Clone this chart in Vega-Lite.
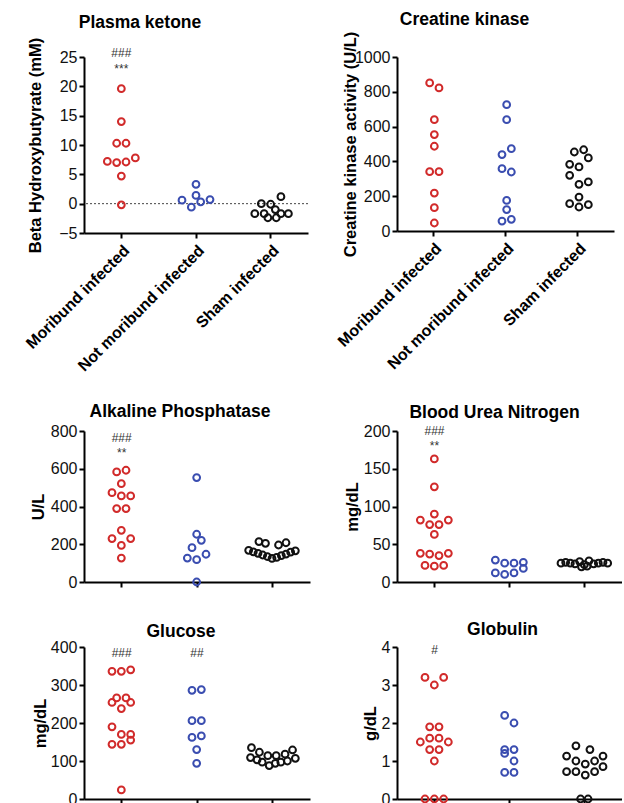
{
  "$schema": "https://vega.github.io/schema/vega-lite/v6.json",
  "padding": {"left": 22, "top": 10, "right": 0, "bottom": 0},
  "datasets": {
    "pts": [
      {"panel": "ketone", "group": "Moribund infected", "value": 19.6, "slot": 0},
      {"panel": "ketone", "group": "Moribund infected", "value": 14.0, "slot": 0},
      {"panel": "ketone", "group": "Moribund infected", "value": 10.3, "slot": -0.5},
      {"panel": "ketone", "group": "Moribund infected", "value": 10.3, "slot": 0.5},
      {"panel": "ketone", "group": "Moribund infected", "value": 7.2, "slot": -1.5},
      {"panel": "ketone", "group": "Moribund infected", "value": 7.0, "slot": -0.5},
      {"panel": "ketone", "group": "Moribund infected", "value": 7.1, "slot": 0.5},
      {"panel": "ketone", "group": "Moribund infected", "value": 7.8, "slot": 1.5},
      {"panel": "ketone", "group": "Moribund infected", "value": 4.7, "slot": 0},
      {"panel": "ketone", "group": "Moribund infected", "value": -0.2, "slot": 0},
      {"panel": "ketone", "group": "Not moribund infected", "value": 3.3, "slot": 0},
      {"panel": "ketone", "group": "Not moribund infected", "value": 1.4, "slot": 0},
      {"panel": "ketone", "group": "Not moribund infected", "value": 0.6, "slot": -1.5},
      {"panel": "ketone", "group": "Not moribund infected", "value": 0.3, "slot": 0.5},
      {"panel": "ketone", "group": "Not moribund infected", "value": 0.7, "slot": 1.5},
      {"panel": "ketone", "group": "Not moribund infected", "value": -0.6, "slot": -0.5},
      {"panel": "ketone", "group": "Sham infected", "value": 1.2, "slot": 1.1},
      {"panel": "ketone", "group": "Sham infected", "value": 0.0, "slot": -1},
      {"panel": "ketone", "group": "Sham infected", "value": -0.1, "slot": 0},
      {"panel": "ketone", "group": "Sham infected", "value": -1.0, "slot": 0.5},
      {"panel": "ketone", "group": "Sham infected", "value": -1.7, "slot": -1.7},
      {"panel": "ketone", "group": "Sham infected", "value": -1.7, "slot": -0.7},
      {"panel": "ketone", "group": "Sham infected", "value": -1.7, "slot": 1.1},
      {"panel": "ketone", "group": "Sham infected", "value": -1.7, "slot": 1.9},
      {"panel": "ketone", "group": "Sham infected", "value": -2.4, "slot": -0.3},
      {"panel": "ketone", "group": "Sham infected", "value": -2.4, "slot": 0.6},

      {"panel": "ck", "group": "Moribund infected", "value": 851, "slot": -0.5},
      {"panel": "ck", "group": "Moribund infected", "value": 822, "slot": 0.5},
      {"panel": "ck", "group": "Moribund infected", "value": 640, "slot": 0},
      {"panel": "ck", "group": "Moribund infected", "value": 554, "slot": 0},
      {"panel": "ck", "group": "Moribund infected", "value": 487, "slot": 0},
      {"panel": "ck", "group": "Moribund infected", "value": 341, "slot": -0.5},
      {"panel": "ck", "group": "Moribund infected", "value": 341, "slot": 0.5},
      {"panel": "ck", "group": "Moribund infected", "value": 218, "slot": 0},
      {"panel": "ck", "group": "Moribund infected", "value": 134, "slot": 0},
      {"panel": "ck", "group": "Moribund infected", "value": 46, "slot": 0},
      {"panel": "ck", "group": "Not moribund infected", "value": 726, "slot": 0},
      {"panel": "ck", "group": "Not moribund infected", "value": 640, "slot": 0},
      {"panel": "ck", "group": "Not moribund infected", "value": 439, "slot": -0.5},
      {"panel": "ck", "group": "Not moribund infected", "value": 473, "slot": 0.5},
      {"panel": "ck", "group": "Not moribund infected", "value": 358, "slot": -0.5},
      {"panel": "ck", "group": "Not moribund infected", "value": 339, "slot": 0.5},
      {"panel": "ck", "group": "Not moribund infected", "value": 176, "slot": 0},
      {"panel": "ck", "group": "Not moribund infected", "value": 123, "slot": 0},
      {"panel": "ck", "group": "Not moribund infected", "value": 57, "slot": -0.5},
      {"panel": "ck", "group": "Not moribund infected", "value": 67, "slot": 0.5},
      {"panel": "ck", "group": "Sham infected", "value": 454, "slot": -0.5},
      {"panel": "ck", "group": "Sham infected", "value": 467, "slot": 0.5},
      {"panel": "ck", "group": "Sham infected", "value": 420, "slot": 1},
      {"panel": "ck", "group": "Sham infected", "value": 383, "slot": -1},
      {"panel": "ck", "group": "Sham infected", "value": 368, "slot": 0},
      {"panel": "ck", "group": "Sham infected", "value": 320, "slot": -1},
      {"panel": "ck", "group": "Sham infected", "value": 282, "slot": 1},
      {"panel": "ck", "group": "Sham infected", "value": 268, "slot": 0},
      {"panel": "ck", "group": "Sham infected", "value": 195, "slot": 0},
      {"panel": "ck", "group": "Sham infected", "value": 157, "slot": -1},
      {"panel": "ck", "group": "Sham infected", "value": 138, "slot": 0},
      {"panel": "ck", "group": "Sham infected", "value": 151, "slot": 1},

      {"panel": "alp", "group": "Moribund infected", "value": 583, "slot": -0.5},
      {"panel": "alp", "group": "Moribund infected", "value": 592, "slot": 0.5},
      {"panel": "alp", "group": "Moribund infected", "value": 521, "slot": 0},
      {"panel": "alp", "group": "Moribund infected", "value": 473, "slot": -1},
      {"panel": "alp", "group": "Moribund infected", "value": 456, "slot": 0},
      {"panel": "alp", "group": "Moribund infected", "value": 456, "slot": 1},
      {"panel": "alp", "group": "Moribund infected", "value": 389, "slot": -0.5},
      {"panel": "alp", "group": "Moribund infected", "value": 389, "slot": 0.5},
      {"panel": "alp", "group": "Moribund infected", "value": 274, "slot": 0},
      {"panel": "alp", "group": "Moribund infected", "value": 230, "slot": -1},
      {"panel": "alp", "group": "Moribund infected", "value": 230, "slot": 1},
      {"panel": "alp", "group": "Moribund infected", "value": 194, "slot": 0},
      {"panel": "alp", "group": "Moribund infected", "value": 127, "slot": 0},
      {"panel": "alp", "group": "Not moribund infected", "value": 553, "slot": 0},
      {"panel": "alp", "group": "Not moribund infected", "value": 253, "slot": 0},
      {"panel": "alp", "group": "Not moribund infected", "value": 221, "slot": 0.5},
      {"panel": "alp", "group": "Not moribund infected", "value": 182, "slot": -0.5},
      {"panel": "alp", "group": "Not moribund infected", "value": 127, "slot": -1},
      {"panel": "alp", "group": "Not moribund infected", "value": 118, "slot": 0},
      {"panel": "alp", "group": "Not moribund infected", "value": 147, "slot": 1},
      {"panel": "alp", "group": "Not moribund infected", "value": 0, "slot": 0},
      {"panel": "alp", "group": "Sham infected", "value": 214, "slot": -1.4},
      {"panel": "alp", "group": "Sham infected", "value": 205, "slot": -0.7},
      {"panel": "alp", "group": "Sham infected", "value": 196, "slot": 0.7},
      {"panel": "alp", "group": "Sham infected", "value": 208, "slot": 1.5},
      {"panel": "alp", "group": "Sham infected", "value": 168, "slot": -2.5},
      {"panel": "alp", "group": "Sham infected", "value": 160, "slot": -2.0},
      {"panel": "alp", "group": "Sham infected", "value": 152, "slot": -1.5},
      {"panel": "alp", "group": "Sham infected", "value": 143, "slot": -1.0},
      {"panel": "alp", "group": "Sham infected", "value": 135, "slot": -0.5},
      {"panel": "alp", "group": "Sham infected", "value": 125, "slot": 0},
      {"panel": "alp", "group": "Sham infected", "value": 130, "slot": 0.5},
      {"panel": "alp", "group": "Sham infected", "value": 140, "slot": 1.0},
      {"panel": "alp", "group": "Sham infected", "value": 148, "slot": 1.5},
      {"panel": "alp", "group": "Sham infected", "value": 158, "slot": 2.0},
      {"panel": "alp", "group": "Sham infected", "value": 165, "slot": 2.5},

      {"panel": "bun", "group": "Moribund infected", "value": 163, "slot": 0},
      {"panel": "bun", "group": "Moribund infected", "value": 126, "slot": 0},
      {"panel": "bun", "group": "Moribund infected", "value": 90, "slot": 0},
      {"panel": "bun", "group": "Moribund infected", "value": 82, "slot": -1.5},
      {"panel": "bun", "group": "Moribund infected", "value": 76, "slot": -0.5},
      {"panel": "bun", "group": "Moribund infected", "value": 76, "slot": 0.5},
      {"panel": "bun", "group": "Moribund infected", "value": 82, "slot": 1.5},
      {"panel": "bun", "group": "Moribund infected", "value": 63, "slot": 0},
      {"panel": "bun", "group": "Moribund infected", "value": 38, "slot": -1.5},
      {"panel": "bun", "group": "Moribund infected", "value": 37, "slot": -0.5},
      {"panel": "bun", "group": "Moribund infected", "value": 35, "slot": 0.5},
      {"panel": "bun", "group": "Moribund infected", "value": 38, "slot": 1.5},
      {"panel": "bun", "group": "Moribund infected", "value": 22, "slot": -1},
      {"panel": "bun", "group": "Moribund infected", "value": 21, "slot": 0},
      {"panel": "bun", "group": "Moribund infected", "value": 22, "slot": 1},
      {"panel": "bun", "group": "Not moribund infected", "value": 29, "slot": -1.5},
      {"panel": "bun", "group": "Not moribund infected", "value": 25, "slot": -0.5},
      {"panel": "bun", "group": "Not moribund infected", "value": 25, "slot": 0.5},
      {"panel": "bun", "group": "Not moribund infected", "value": 26, "slot": 1.5},
      {"panel": "bun", "group": "Not moribund infected", "value": 12, "slot": -1.5},
      {"panel": "bun", "group": "Not moribund infected", "value": 10, "slot": -0.5},
      {"panel": "bun", "group": "Not moribund infected", "value": 12, "slot": 0.5},
      {"panel": "bun", "group": "Not moribund infected", "value": 18, "slot": 1.5},
      {"panel": "bun", "group": "Sham infected", "value": 25, "slot": -2.5},
      {"panel": "bun", "group": "Sham infected", "value": 26, "slot": -2},
      {"panel": "bun", "group": "Sham infected", "value": 25, "slot": -1.5},
      {"panel": "bun", "group": "Sham infected", "value": 24, "slot": -1},
      {"panel": "bun", "group": "Sham infected", "value": 27, "slot": -0.5},
      {"panel": "bun", "group": "Sham infected", "value": 23, "slot": 0},
      {"panel": "bun", "group": "Sham infected", "value": 28, "slot": 0.5},
      {"panel": "bun", "group": "Sham infected", "value": 24, "slot": 1},
      {"panel": "bun", "group": "Sham infected", "value": 25, "slot": 1.5},
      {"panel": "bun", "group": "Sham infected", "value": 26, "slot": 2},
      {"panel": "bun", "group": "Sham infected", "value": 25, "slot": 2.5},
      {"panel": "bun", "group": "Sham infected", "value": 20, "slot": -0.3},
      {"panel": "bun", "group": "Sham infected", "value": 21, "slot": 0.3},

      {"panel": "glucose", "group": "Moribund infected", "value": 336, "slot": -1},
      {"panel": "glucose", "group": "Moribund infected", "value": 336, "slot": 0},
      {"panel": "glucose", "group": "Moribund infected", "value": 340, "slot": 1},
      {"panel": "glucose", "group": "Moribund infected", "value": 266, "slot": -0.5},
      {"panel": "glucose", "group": "Moribund infected", "value": 266, "slot": 0.5},
      {"panel": "glucose", "group": "Moribund infected", "value": 254, "slot": -1},
      {"panel": "glucose", "group": "Moribund infected", "value": 254, "slot": 1},
      {"panel": "glucose", "group": "Moribund infected", "value": 238, "slot": 0},
      {"panel": "glucose", "group": "Moribund infected", "value": 190, "slot": -1},
      {"panel": "glucose", "group": "Moribund infected", "value": 170, "slot": 0},
      {"panel": "glucose", "group": "Moribund infected", "value": 170, "slot": 1},
      {"panel": "glucose", "group": "Moribund infected", "value": 144, "slot": -1},
      {"panel": "glucose", "group": "Moribund infected", "value": 144, "slot": 0},
      {"panel": "glucose", "group": "Moribund infected", "value": 155, "slot": 1},
      {"panel": "glucose", "group": "Moribund infected", "value": 24, "slot": 0},
      {"panel": "glucose", "group": "Not moribund infected", "value": 286, "slot": -0.5},
      {"panel": "glucose", "group": "Not moribund infected", "value": 288, "slot": 0.5},
      {"panel": "glucose", "group": "Not moribund infected", "value": 206, "slot": -0.5},
      {"panel": "glucose", "group": "Not moribund infected", "value": 206, "slot": 0.5},
      {"panel": "glucose", "group": "Not moribund infected", "value": 162, "slot": -0.5},
      {"panel": "glucose", "group": "Not moribund infected", "value": 166, "slot": 0.5},
      {"panel": "glucose", "group": "Not moribund infected", "value": 130, "slot": 0},
      {"panel": "glucose", "group": "Not moribund infected", "value": 94, "slot": 0},
      {"panel": "glucose", "group": "Sham infected", "value": 135, "slot": -2.2},
      {"panel": "glucose", "group": "Sham infected", "value": 129, "slot": 2.2},
      {"panel": "glucose", "group": "Sham infected", "value": 123, "slot": -1.35},
      {"panel": "glucose", "group": "Sham infected", "value": 114, "slot": -0.45},
      {"panel": "glucose", "group": "Sham infected", "value": 114, "slot": 0.45},
      {"panel": "glucose", "group": "Sham infected", "value": 118, "slot": 1.4},
      {"panel": "glucose", "group": "Sham infected", "value": 109, "slot": -2.3},
      {"panel": "glucose", "group": "Sham infected", "value": 103, "slot": -1.6},
      {"panel": "glucose", "group": "Sham infected", "value": 97, "slot": -1.05},
      {"panel": "glucose", "group": "Sham infected", "value": 88, "slot": -0.3},
      {"panel": "glucose", "group": "Sham infected", "value": 94, "slot": 0.35},
      {"panel": "glucose", "group": "Sham infected", "value": 97, "slot": 0.95},
      {"panel": "glucose", "group": "Sham infected", "value": 100, "slot": 1.65},
      {"panel": "glucose", "group": "Sham infected", "value": 107, "slot": 2.5},

      {"panel": "globulin", "group": "Moribund infected", "value": 3.2, "slot": -1},
      {"panel": "globulin", "group": "Moribund infected", "value": 3.2, "slot": 1},
      {"panel": "globulin", "group": "Moribund infected", "value": 3.0, "slot": 0},
      {"panel": "globulin", "group": "Moribund infected", "value": 1.9, "slot": -0.5},
      {"panel": "globulin", "group": "Moribund infected", "value": 1.9, "slot": 0.5},
      {"panel": "globulin", "group": "Moribund infected", "value": 1.6, "slot": -0.5},
      {"panel": "globulin", "group": "Moribund infected", "value": 1.6, "slot": 0.5},
      {"panel": "globulin", "group": "Moribund infected", "value": 1.5, "slot": -1.5},
      {"panel": "globulin", "group": "Moribund infected", "value": 1.5, "slot": 1.5},
      {"panel": "globulin", "group": "Moribund infected", "value": 1.3, "slot": -0.5},
      {"panel": "globulin", "group": "Moribund infected", "value": 1.3, "slot": 0.5},
      {"panel": "globulin", "group": "Moribund infected", "value": 1.0, "slot": 0},
      {"panel": "globulin", "group": "Moribund infected", "value": 0, "slot": -1},
      {"panel": "globulin", "group": "Moribund infected", "value": 0, "slot": 0},
      {"panel": "globulin", "group": "Moribund infected", "value": 0, "slot": 1},
      {"panel": "globulin", "group": "Not moribund infected", "value": 2.2, "slot": -0.5},
      {"panel": "globulin", "group": "Not moribund infected", "value": 2.0, "slot": 0.5},
      {"panel": "globulin", "group": "Not moribund infected", "value": 1.3, "slot": -0.5},
      {"panel": "globulin", "group": "Not moribund infected", "value": 1.3, "slot": 0.5},
      {"panel": "globulin", "group": "Not moribund infected", "value": 1.2, "slot": -0.5},
      {"panel": "globulin", "group": "Not moribund infected", "value": 1.0, "slot": 0.5},
      {"panel": "globulin", "group": "Not moribund infected", "value": 0.7, "slot": -0.5},
      {"panel": "globulin", "group": "Not moribund infected", "value": 0.7, "slot": 0.5},
      {"panel": "globulin", "group": "Sham infected", "value": 1.4, "slot": -0.9},
      {"panel": "globulin", "group": "Sham infected", "value": 1.3, "slot": 0.6},
      {"panel": "globulin", "group": "Sham infected", "value": 1.13, "slot": -1.9},
      {"panel": "globulin", "group": "Sham infected", "value": 1.0, "slot": -0.9},
      {"panel": "globulin", "group": "Sham infected", "value": 0.92, "slot": 0.1},
      {"panel": "globulin", "group": "Sham infected", "value": 1.0, "slot": 1.1},
      {"panel": "globulin", "group": "Sham infected", "value": 1.13, "slot": 2.0},
      {"panel": "globulin", "group": "Sham infected", "value": 0.72, "slot": -1.9},
      {"panel": "globulin", "group": "Sham infected", "value": 0.72, "slot": -0.9},
      {"panel": "globulin", "group": "Sham infected", "value": 0.63, "slot": 0.1},
      {"panel": "globulin", "group": "Sham infected", "value": 0.72, "slot": 1.1},
      {"panel": "globulin", "group": "Sham infected", "value": 0.85, "slot": 2.0},
      {"panel": "globulin", "group": "Sham infected", "value": 0, "slot": -0.4},
      {"panel": "globulin", "group": "Sham infected", "value": 0, "slot": 0.4}
    ],
    "ann": [
      {"panel": "ketone", "group": "Moribund infected", "value": 25.7, "label": "###"},
      {"panel": "ketone", "group": "Moribund infected", "value": 23.0, "label": "***"},
      {"panel": "alp", "group": "Moribund infected", "value": 765, "label": "###"},
      {"panel": "alp", "group": "Moribund infected", "value": 684, "label": "**"},
      {"panel": "bun", "group": "Moribund infected", "value": 200, "label": "###"},
      {"panel": "bun", "group": "Moribund infected", "value": 180, "label": "**"},
      {"panel": "glucose", "group": "Moribund infected", "value": 384, "label": "###"},
      {"panel": "glucose", "group": "Not moribund infected", "value": 384, "label": "##"},
      {"panel": "globulin", "group": "Moribund infected", "value": 3.91, "label": "#"}
    ]
  },
  "bounds": "flush",
  "align": "each",
  "columns": 2,
  "spacing": {"row": 65, "column": 87},
  "concat": [
    {
      "width": 224, "height": 176,
      "title": {"text": "Plasma ketone", "dx": -56, "offset": -8, "baseline": "alphabetic"},
      "layer": [
        {"data": {"values": [{}]}, "mark": {"type": "rule", "strokeDash": [2, 2], "color": "#444", "strokeWidth": 1}, "encoding": {"y": {"datum": 0, "type": "quantitative", "scale": {"domain": [-5, 25], "nice": false}, "axis": {"values": [-5, 0, 5, 10, 15, 20, 25], "labelOverlap": false, "title": "Beta Hydroxybutyrate (mM)", "titleX": -41}}}},
        {
          "data": {"name": "pts"},
          "transform": [{"filter": "datum.panel === 'ketone'"}],
          "mark": {"type": "point", "filled": false, "strokeWidth": 2, "size": 46, "opacity": 1},
          "encoding": {
            "x": {"field": "group", "type": "nominal", "scale": {"domain": ["Moribund infected", "Not moribund infected", "Sham infected"], "paddingInner": 0, "paddingOuter": 0}, "axis": {"title": null, "labelAngle": -45, "labelFontWeight": "bold", "labelFontSize": 16, "labelColor": "#000", "labelPadding": 4}},
            "xOffset": {"field": "slot", "type": "quantitative", "scale": {"domain": [-4, 4]}},
            "y": {"field": "value", "type": "quantitative", "scale": {"domain": [-5, 25], "nice": false}, "axis": {"values": [-5, 0, 5, 10, 15, 20, 25], "labelOverlap": false, "title": "Beta Hydroxybutyrate (mM)", "titleX": -41}},
            "color": {"field": "group", "type": "nominal", "scale": {"domain": ["Moribund infected", "Not moribund infected", "Sham infected"], "range": ["#d12a2a", "#3a4db0", "#111111"]}, "legend": null}
          }
        },
        {
          "data": {"name": "ann"},
          "transform": [{"filter": "datum.panel === 'ketone'"}],
          "mark": {"type": "text", "fontSize": 12, "color": "#333", "baseline": "middle"},
          "encoding": {
            "x": {"field": "group", "type": "nominal", "scale": {"domain": ["Moribund infected", "Not moribund infected", "Sham infected"], "paddingInner": 0, "paddingOuter": 0}, "axis": {"title": null, "labelAngle": -45, "labelFontWeight": "bold", "labelFontSize": 16, "labelColor": "#000", "labelPadding": 4}},
            "y": {"field": "value", "type": "quantitative", "scale": {"domain": [-5, 25], "nice": false}, "axis": {"values": [-5, 0, 5, 10, 15, 20, 25], "labelOverlap": false, "title": "Beta Hydroxybutyrate (mM)", "titleX": -41}},
            "text": {"field": "label"}
          }
        }
      ]
    },
    {
      "width": 217, "height": 174,
      "title": {"text": "Creatine kinase", "dx": -41, "offset": -11, "baseline": "alphabetic"},
      "layer": [
        {
          "data": {"name": "pts"},
          "transform": [{"filter": "datum.panel === 'ck'"}],
          "mark": {"type": "point", "filled": false, "strokeWidth": 2, "size": 46, "opacity": 1},
          "encoding": {
            "x": {"field": "group", "type": "nominal", "scale": {"domain": ["Moribund infected", "Not moribund infected", "Sham infected"], "paddingInner": 0, "paddingOuter": 0}, "axis": {"title": null, "labelAngle": -45, "labelFontWeight": "bold", "labelFontSize": 16, "labelColor": "#000", "labelPadding": 4}},
            "xOffset": {"field": "slot", "type": "quantitative", "scale": {"domain": [-4, 4]}},
            "y": {"field": "value", "type": "quantitative", "scale": {"domain": [0, 1000], "nice": false}, "axis": {"values": [0, 200, 400, 600, 800, 1000], "labelOverlap": false, "format": "d", "title": "Creatine kinase activity (U/L)", "titleX": -39}},
            "color": {"field": "group", "type": "nominal", "scale": {"domain": ["Moribund infected", "Not moribund infected", "Sham infected"], "range": ["#d12a2a", "#3a4db0", "#111111"]}, "legend": null}
          }
        }
      ]
    },
    {"width": 1, "height": 68, "data": {"values": []}, "mark": {"type": "point", "opacity": 0}, "encoding": {}},
    {"width": 1, "height": 68, "data": {"values": []}, "mark": {"type": "point", "opacity": 0}, "encoding": {}},
    {
      "width": 226, "height": 151,
      "title": {"text": "Alkaline Phosphatase", "dx": -17, "offset": -11, "baseline": "alphabetic"},
      "layer": [
        {
          "data": {"name": "pts"},
          "transform": [{"filter": "datum.panel === 'alp'"}],
          "mark": {"type": "point", "filled": false, "strokeWidth": 2, "size": 46, "opacity": 1},
          "encoding": {
            "x": {"field": "group", "type": "nominal", "scale": {"domain": ["Moribund infected", "Not moribund infected", "Sham infected"], "paddingInner": 0, "paddingOuter": 0}, "axis": {"title": null, "labels": false}},
            "xOffset": {"field": "slot", "type": "quantitative", "scale": {"domain": [-4, 4]}},
            "y": {"field": "value", "type": "quantitative", "scale": {"domain": [0, 800], "nice": false}, "axis": {"values": [0, 200, 400, 600, 800], "labelOverlap": false, "title": "U/L", "titleX": -38}},
            "color": {"field": "group", "type": "nominal", "scale": {"domain": ["Moribund infected", "Not moribund infected", "Sham infected"], "range": ["#d12a2a", "#3a4db0", "#111111"]}, "legend": null}
          }
        },
        {
          "data": {"name": "ann"},
          "transform": [{"filter": "datum.panel === 'alp'"}],
          "mark": {"type": "text", "fontSize": 12, "color": "#333", "baseline": "middle"},
          "encoding": {
            "x": {"field": "group", "type": "nominal", "scale": {"domain": ["Moribund infected", "Not moribund infected", "Sham infected"], "paddingInner": 0, "paddingOuter": 0}, "axis": {"title": null, "labels": false}},
            "y": {"field": "value", "type": "quantitative", "scale": {"domain": [0, 800], "nice": false}, "axis": {"values": [0, 200, 400, 600, 800], "labelOverlap": false, "title": "U/L", "titleX": -38}},
            "text": {"field": "label"}
          }
        }
      ]
    },
    {
      "width": 225, "height": 151,
      "title": {"text": "Blood Urea Nitrogen", "dx": -15, "offset": -12, "baseline": "alphabetic"},
      "layer": [
        {
          "data": {"name": "pts"},
          "transform": [{"filter": "datum.panel === 'bun'"}],
          "mark": {"type": "point", "filled": false, "strokeWidth": 2, "size": 46, "opacity": 1},
          "encoding": {
            "x": {"field": "group", "type": "nominal", "scale": {"domain": ["Moribund infected", "Not moribund infected", "Sham infected"], "paddingInner": 0, "paddingOuter": 0}, "axis": {"title": null, "labels": false}},
            "xOffset": {"field": "slot", "type": "quantitative", "scale": {"domain": [-4, 4]}},
            "y": {"field": "value", "type": "quantitative", "scale": {"domain": [0, 200], "nice": false}, "axis": {"values": [0, 50, 100, 150, 200], "labelOverlap": false, "title": "mg/dL", "titleX": -37}},
            "color": {"field": "group", "type": "nominal", "scale": {"domain": ["Moribund infected", "Not moribund infected", "Sham infected"], "range": ["#d12a2a", "#3a4db0", "#111111"]}, "legend": null}
          }
        },
        {
          "data": {"name": "ann"},
          "transform": [{"filter": "datum.panel === 'bun'"}],
          "mark": {"type": "text", "fontSize": 12, "color": "#333", "baseline": "middle"},
          "encoding": {
            "x": {"field": "group", "type": "nominal", "scale": {"domain": ["Moribund infected", "Not moribund infected", "Sham infected"], "paddingInner": 0, "paddingOuter": 0}, "axis": {"title": null, "labels": false}},
            "y": {"field": "value", "type": "quantitative", "scale": {"domain": [0, 200], "nice": false}, "axis": {"values": [0, 50, 100, 150, 200], "labelOverlap": false, "title": "mg/dL", "titleX": -37}},
            "text": {"field": "label"}
          }
        }
      ]
    },
    {
      "width": 226, "height": 152,
      "title": {"text": "Glucose", "dx": -16, "offset": -15, "baseline": "alphabetic"},
      "layer": [
        {
          "data": {"name": "pts"},
          "transform": [{"filter": "datum.panel === 'glucose'"}],
          "mark": {"type": "point", "filled": false, "strokeWidth": 2, "size": 46, "opacity": 1},
          "encoding": {
            "x": {"field": "group", "type": "nominal", "scale": {"domain": ["Moribund infected", "Not moribund infected", "Sham infected"], "paddingInner": 0, "paddingOuter": 0}, "axis": {"title": null, "labels": false}},
            "xOffset": {"field": "slot", "type": "quantitative", "scale": {"domain": [-4, 4]}},
            "y": {"field": "value", "type": "quantitative", "scale": {"domain": [0, 400], "nice": false}, "axis": {"values": [0, 100, 200, 300, 400], "labelOverlap": false, "title": "mg/dL", "titleX": -36}},
            "color": {"field": "group", "type": "nominal", "scale": {"domain": ["Moribund infected", "Not moribund infected", "Sham infected"], "range": ["#d12a2a", "#3a4db0", "#111111"]}, "legend": null}
          }
        },
        {
          "data": {"name": "ann"},
          "transform": [{"filter": "datum.panel === 'glucose'"}],
          "mark": {"type": "text", "fontSize": 12, "color": "#333", "baseline": "middle"},
          "encoding": {
            "x": {"field": "group", "type": "nominal", "scale": {"domain": ["Moribund infected", "Not moribund infected", "Sham infected"], "paddingInner": 0, "paddingOuter": 0}, "axis": {"title": null, "labels": false}},
            "y": {"field": "value", "type": "quantitative", "scale": {"domain": [0, 400], "nice": false}, "axis": {"values": [0, 100, 200, 300, 400], "labelOverlap": false, "title": "mg/dL", "titleX": -36}},
            "text": {"field": "label"}
          }
        }
      ]
    },
    {
      "width": 225, "height": 152,
      "title": {"text": "Globulin", "dx": -7, "offset": -13, "baseline": "alphabetic"},
      "layer": [
        {
          "data": {"name": "pts"},
          "transform": [{"filter": "datum.panel === 'globulin'"}],
          "mark": {"type": "point", "filled": false, "strokeWidth": 2, "size": 46, "opacity": 1},
          "encoding": {
            "x": {"field": "group", "type": "nominal", "scale": {"domain": ["Moribund infected", "Not moribund infected", "Sham infected"], "paddingInner": 0, "paddingOuter": 0}, "axis": {"title": null, "labels": false}},
            "xOffset": {"field": "slot", "type": "quantitative", "scale": {"domain": [-4, 4]}},
            "y": {"field": "value", "type": "quantitative", "scale": {"domain": [0, 4], "nice": false}, "axis": {"values": [0, 1, 2, 3, 4], "labelOverlap": false, "title": "g/dL", "titleX": -19}},
            "color": {"field": "group", "type": "nominal", "scale": {"domain": ["Moribund infected", "Not moribund infected", "Sham infected"], "range": ["#d12a2a", "#3a4db0", "#111111"]}, "legend": null}
          }
        },
        {
          "data": {"name": "ann"},
          "transform": [{"filter": "datum.panel === 'globulin'"}],
          "mark": {"type": "text", "fontSize": 12, "color": "#333", "baseline": "middle"},
          "encoding": {
            "x": {"field": "group", "type": "nominal", "scale": {"domain": ["Moribund infected", "Not moribund infected", "Sham infected"], "paddingInner": 0, "paddingOuter": 0}, "axis": {"title": null, "labels": false}},
            "y": {"field": "value", "type": "quantitative", "scale": {"domain": [0, 4], "nice": false}, "axis": {"values": [0, 1, 2, 3, 4], "labelOverlap": false, "title": "g/dL", "titleX": -19}},
            "text": {"field": "label"}
          }
        }
      ]
    }
  ],
  "config": {
    "font": "Liberation Sans",
    "view": {"stroke": null},
    "axis": {"domainColor": "#000", "domainWidth": 2, "tickColor": "#000", "tickWidth": 2, "tickSize": 5, "labelColor": "#111", "labelFont": "Liberation Sans", "labelFontSize": 16, "titleFont": "Liberation Sans", "titleFontSize": 16.5, "titleFontWeight": "bold", "titleColor": "#000", "grid": false, "labelPadding": 2, "labelOverlap": false},
    "title": {"font": "Liberation Sans", "fontSize": 17.5, "fontWeight": "bold", "color": "#000", "anchor": "middle"}
  }
}
